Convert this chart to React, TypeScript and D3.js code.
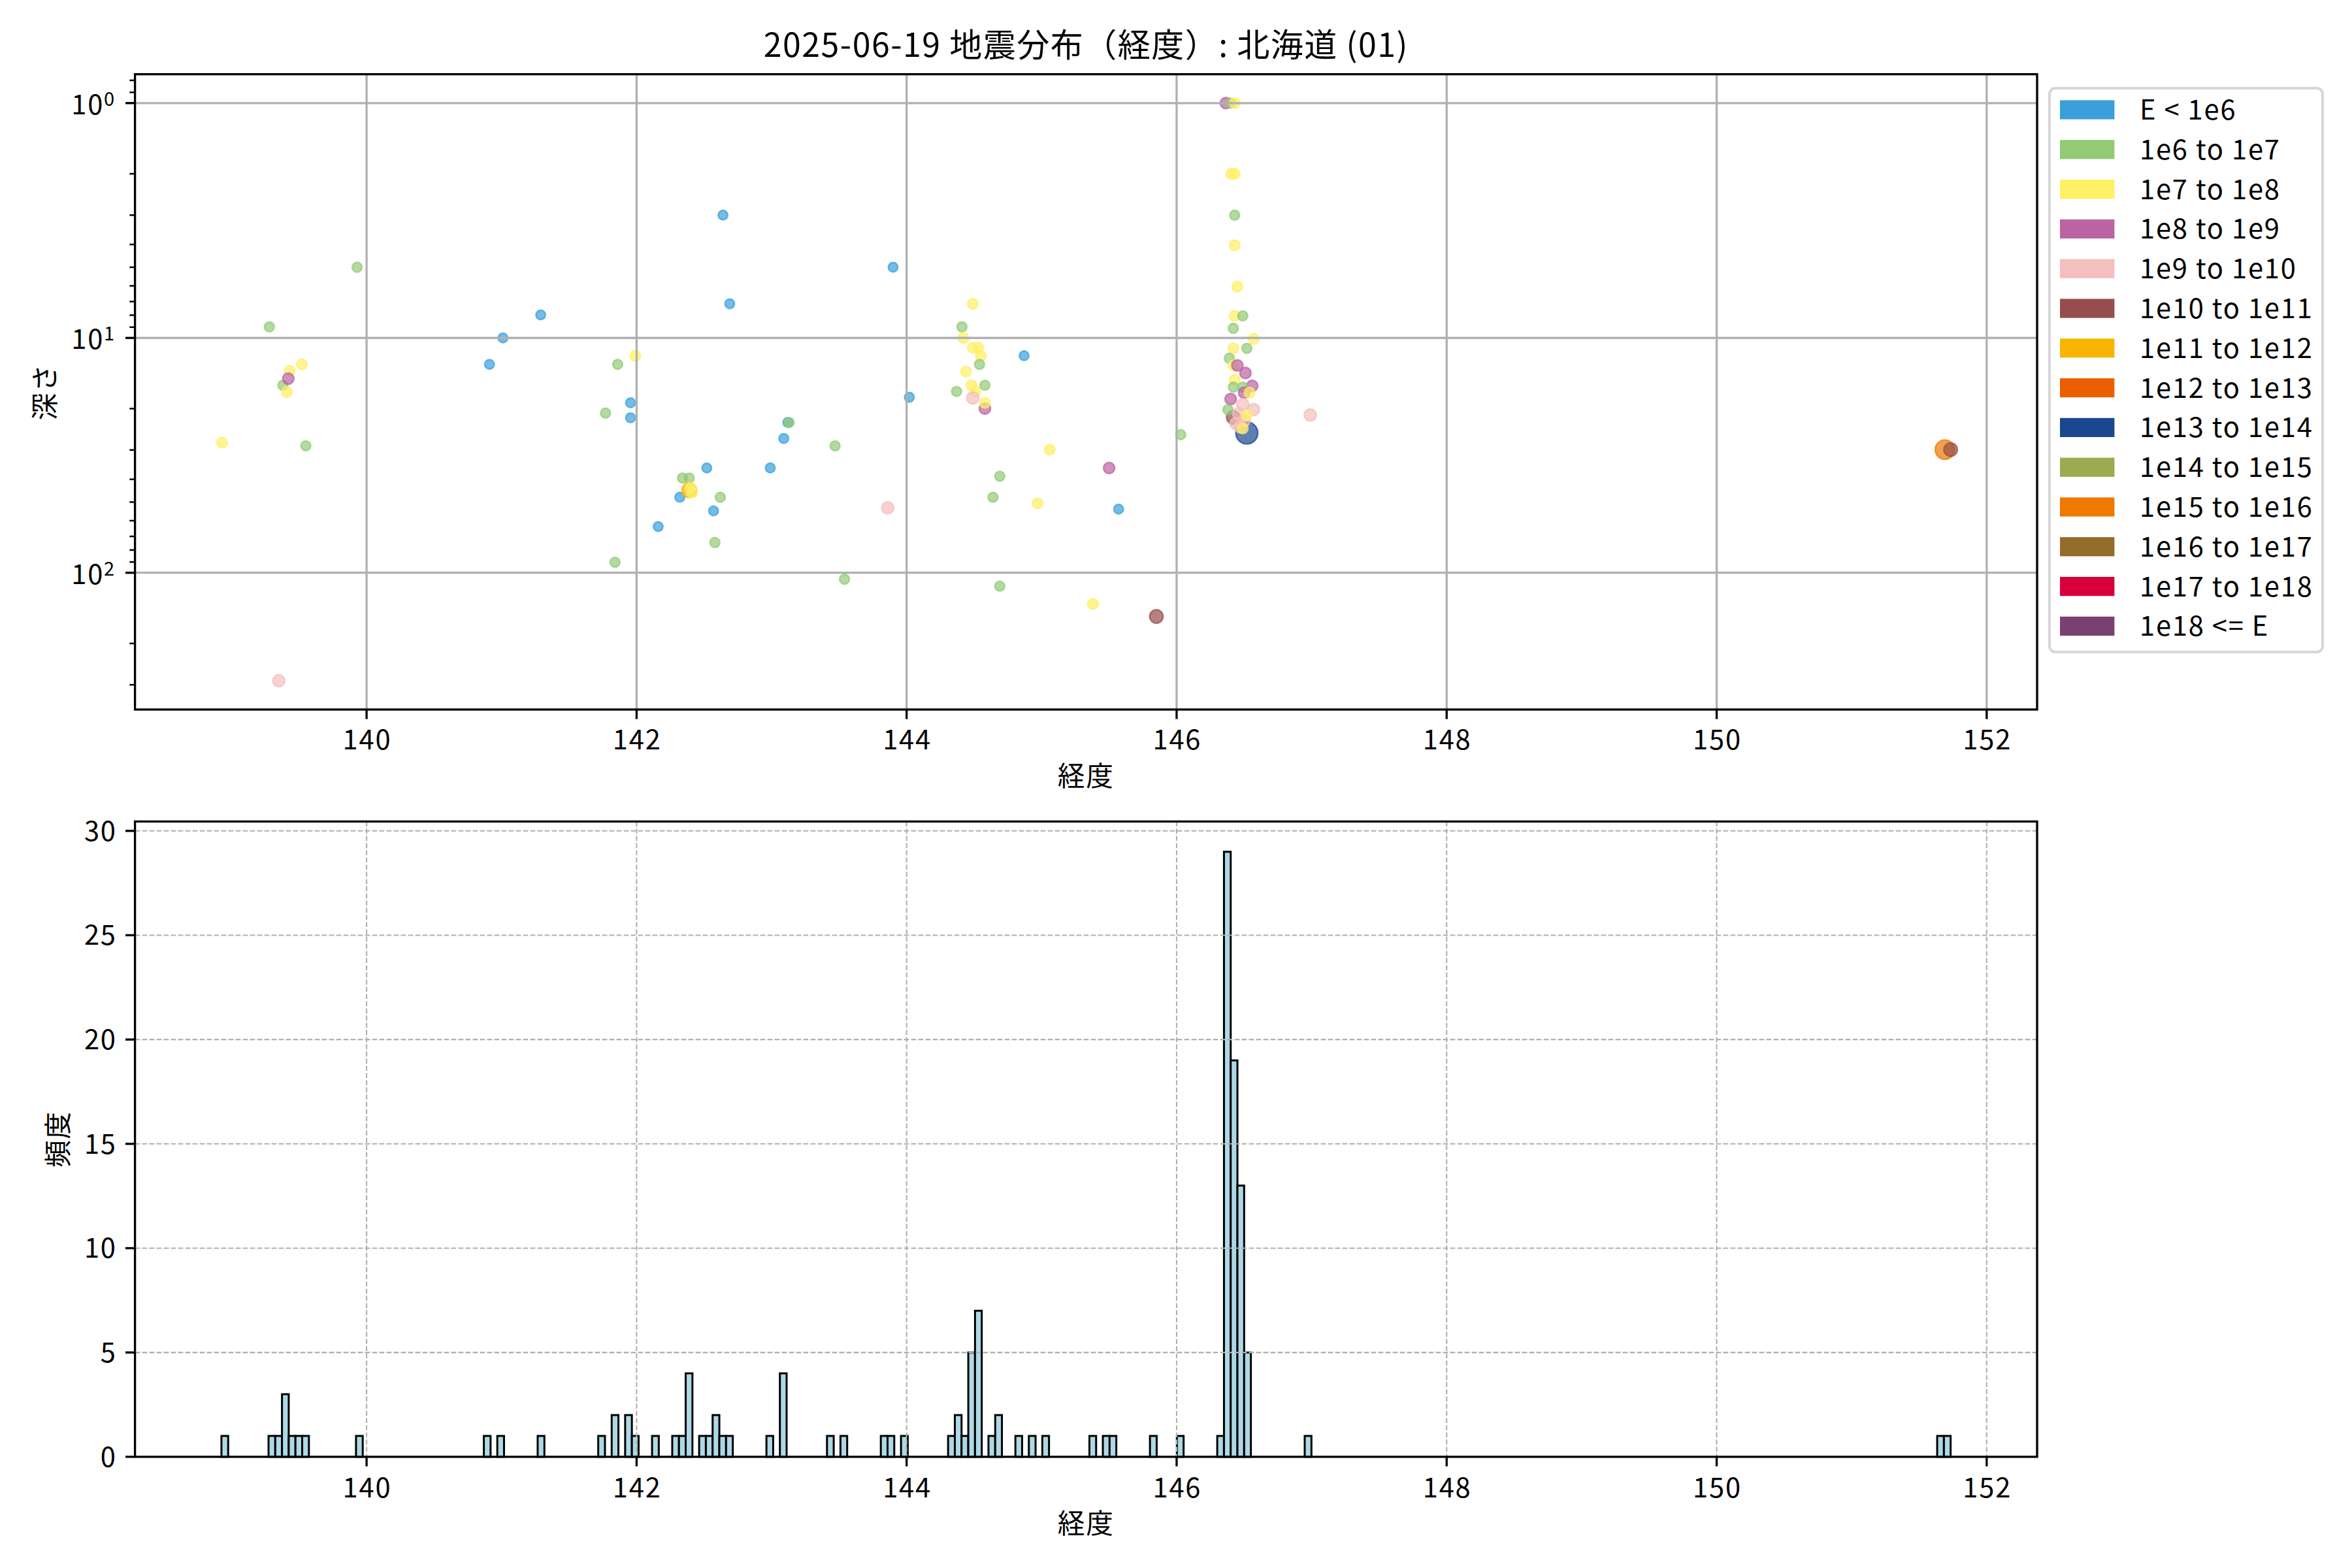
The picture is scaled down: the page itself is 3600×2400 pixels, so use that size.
import * as d3 from "d3";

// energy classes (legend)
const classLabels = [
  "E < 1e6", "1e6 to 1e7", "1e7 to 1e8", "1e8 to 1e9", "1e9 to 1e10", "1e10 to 1e11", "1e11 to 1e12",
  "1e12 to 1e13", "1e13 to 1e14", "1e14 to 1e15", "1e15 to 1e16", "1e16 to 1e17", "1e17 to 1e18", "1e18 <= E",
];
const classColors = [
  "#3a9fdb", "#93ca76", "#fff064", "#bb63a3", "#f4bfbc", "#954e4c", "#f8b500",
  "#ea6000", "#1b478e", "#9bab4f", "#ee7800", "#946c2c", "#d7003a", "#7a4170",
];
const classRadius = [8.5, 8.7, 9.2, 9.8, 10.5, 11.5, 12.5, 13.5, 18, 15, 16, 17, 18, 19];

// scatter: longitude, depth (km), energy class
const lon = [
  138.93, 139.28, 139.35, 139.38, 139.41, 139.43, 139.42, 139.52, 139.55, 139.93,
  140.91, 141.01, 141.29, 141.77, 141.84, 141.86, 141.955, 141.955, 141.99, 142.16,
  142.32, 142.34, 142.39, 142.39, 142.40, 142.41, 142.52, 142.57, 142.58, 142.62,
  142.64, 142.69, 142.99, 143.09, 143.12, 143.13, 143.47, 143.54, 143.86, 143.90,
  144.02, 144.37, 144.41, 144.42, 144.44, 144.49, 144.49, 144.53, 144.55, 144.54,
  144.48, 144.51, 144.58, 144.49, 144.58, 144.58, 144.64, 144.69, 144.69, 144.87,
  144.97, 145.06, 145.38, 145.50, 145.57, 145.85, 146.03,
  146.52, 146.365, 146.40, 146.43, 146.405, 146.43, 146.43, 146.43, 146.45, 146.43,
  146.49, 146.42, 146.57, 146.42, 146.52, 146.39, 146.42, 146.45, 146.51, 146.43,
  146.56, 146.42, 146.49, 146.50, 146.54, 146.40, 146.42, 146.38, 146.49, 146.57,
  146.46, 146.44, 146.47, 146.50, 146.52, 146.49, 146.99, 151.69, 151.733,
];
const depth = [
  27.9, 8.97, 288, 15.9, 17.0, 13.8, 14.9, 12.96, 28.8, 5.0,
  12.96, 10.0, 7.98, 20.9, 90.2, 12.96, 18.9, 21.9, 11.9, 63.6,
  47.7, 39.5, 39.5, 44.5, 43.5, 45.5, 35.8, 54.5, 74.3, 47.7,
  3.0, 7.16, 35.8, 26.8, 22.9, 22.9, 28.8, 106.5, 52.9, 5.0,
  17.9, 16.9, 8.97, 10.0, 13.9, 7.16, 11.0, 11.0, 11.9, 12.96,
  15.9, 16.9, 15.9, 18.0, 20.0, 18.9, 47.7, 38.8, 114, 11.9,
  50.6, 29.9, 135.6, 35.8, 53.6, 153.5, 25.8,
  25.4, 1.0, 1.0, 1.0, 2.0, 2.0, 3.0, 4.03, 6.04, 8.05,
  8.05, 9.1, 10.1, 11.07, 11.07, 12.2, 13.1, 13.1, 14.1, 15.1,
  16.0, 16.2, 16.2, 17.1, 17.1, 18.2, 21.8, 20.2, 19.2, 20.2,
  21.0, 23.2, 23.9, 22.5, 21.3, 24.3, 21.3, 29.9, 29.9,
];
const cls = [
  2, 1, 4, 1, 2, 2, 3, 2, 1, 1,
  0, 0, 0, 1, 1, 1, 0, 0, 2, 0,
  0, 1, 1, 6, 2, 2, 0, 0, 1, 1,
  0, 0, 0, 0, 0, 1, 1, 1, 4, 0,
  0, 1, 1, 2, 2, 2, 2, 2, 2, 1,
  2, 2, 1, 4, 3, 2, 1, 1, 1, 0,
  2, 2, 2, 3, 0, 5, 1,
  8, 3, 1, 2, 2, 2, 1, 2, 2, 2,
  1, 1, 2, 2, 1, 1, 2, 3, 3, 2,
  3, 1, 1, 3, 2, 3, 5, 1, 4, 4,
  4, 4, 4, 4, 2, 2, 4, 10, 5,
];

// histogram of longitude (257 bins from min to max)
const lonMin = 138.925;
const lonMax = 151.733;
const binCount = 257;
const histBin = [
  0, 7, 8, 9, 10, 11, 12, 20, 39, 41, 47, 56, 58, 60, 61, 64, 67, 68, 69, 71, 72, 73, 74, 75, 81, 83, 90,
  92, 98, 99, 101, 108, 109, 110, 111, 112, 114, 115, 118, 120, 122, 129, 131, 132, 138, 142, 148, 149, 150,
  151, 152, 161, 255, 256,
];
const histCount = [
  1, 1, 1, 3, 1, 1, 1, 1, 1, 1, 1, 1, 2, 2, 1, 1, 1, 1, 4, 1, 1, 2, 1, 1, 1, 4, 1,
  1, 1, 1, 1, 1, 2, 1, 5, 7, 1, 2, 1, 1, 1, 1, 1, 1, 1, 1, 1, 29, 19,
  13, 5, 1, 1, 1,
];

const title = "2025-06-19 地震分布（経度）: 北海道 (01)";
const FONT = "'Noto Sans CJK JP', 'Noto Sans', sans-serif";

export default function App() {
  const W = 3600, H = 2400;
  const axL = 206.6, axR = 3118;
  const top1 = 113.6, bot1 = 1086;
  const top2 = 1257.4, bot2 = 2229.8;
  const fs = 41.7;
  const ls = 1.8; // the reference font runs a little wider
  const tickLen = 14.6, minorLen = 8.3;

  const span = lonMax - lonMin;
  const x = d3.scaleLinear().domain([lonMin - 0.05 * span, lonMax + 0.05 * span]).range([axL, axR]);
  const xTicks = x.ticks(8).filter((t) => t % 2 === 0);

  const [dMin, dMax] = d3.extent(depth) as [number, number];
  const lspan = Math.log10(dMax) - Math.log10(dMin);
  const y1 = d3
    .scaleLog()
    .domain([10 ** (Math.log10(dMin) - 0.05 * lspan), 10 ** (Math.log10(dMax) + 0.05 * lspan)])
    .range([top1, bot1]);
  const y1Major = [1, 10, 100];
  const y1Minor = y1.ticks().filter((t) => !y1Major.includes(t));

  const y2 = d3.scaleLinear().domain([0, d3.max(histCount)! * 1.05]).range([bot2, top2]);
  const y2Ticks = d3.range(0, 31, 5);
  const binW = (lonMax - lonMin) / binCount;

  const axisCol = "#000";
  const spineW = 3.33;

  return (
    <svg width={W} height={H} style={{ position: "absolute", left: 0, top: 0, background: "#fff" }} fontFamily={FONT}>
      <rect width={W} height={H} fill="#fff" />
      <text x={(axL + axR) / 2} y={87} textAnchor="middle" fontSize={50} letterSpacing={1.5}>{title}</text>

      {/* ---------- scatter: depth vs longitude ---------- */}
      <g>
        {lon.map((d, i) => {
          const c = classColors[cls[i]];
          const r = classRadius[cls[i]];
          return (
            <circle key={i} cx={x(d)} cy={y1(depth[i])} r={r - 1.2} fill={c} fillOpacity={0.7}
              stroke={c} strokeOpacity={0.7} strokeWidth={2.4} />
          );
        })}
      </g>
      <g stroke="#b0b0b0" strokeWidth={3.3}>
        {xTicks.map((t) => <line key={t} x1={x(t)} x2={x(t)} y1={top1} y2={bot1} />)}
        {y1Major.map((t) => <line key={t} x1={axL} x2={axR} y1={y1(t)} y2={y1(t)} />)}
      </g>
      <rect x={axL} y={top1} width={axR - axL} height={bot1 - top1} fill="none" stroke={axisCol} strokeWidth={spineW} />
      <g stroke={axisCol}>
        {xTicks.map((t) => <line key={t} x1={x(t)} x2={x(t)} y1={bot1} y2={bot1 + tickLen} strokeWidth={3.33} />)}
        {y1Major.map((t) => <line key={t} x1={axL - tickLen} x2={axL} y1={y1(t)} y2={y1(t)} strokeWidth={3.33} />)}
        {y1Minor.map((t) => <line key={t} x1={axL - minorLen} x2={axL} y1={y1(t)} y2={y1(t)} strokeWidth={2.5} />)}
      </g>
      <g fontSize={fs} letterSpacing={ls}>
        {xTicks.map((t) => <text key={t} x={x(t) + ls / 2} y={1147} textAnchor="middle">{t}</text>)}
        {y1Major.map((t) => (
          <text key={t} x={177} y={y1(t) + 17} textAnchor="end">
            10<tspan dy={-13} fontSize={29}>{Math.round(Math.log10(t))}</tspan>
          </text>
        ))}
        <text x={(axL + axR) / 2} y={1203} textAnchor="middle">経度</text>
        <text transform={`translate(66,${(top1 + bot1) / 2}) rotate(-90)`} textAnchor="middle" dominantBaseline="central">深さ</text>
      </g>

      {/* legend */}
      <g>
        <rect x={3137} y={135} width={418} height={863} rx={9} fill="#fff" fillOpacity={0.8} stroke="#d6d6d6" strokeWidth={4} />
        {classLabels.map((lab, i) => {
          const cy = 168 + i * 60.8;
          return (
            <g key={lab}>
              <rect x={3153} y={cy - 14.6} width={83.4} height={29.2} fill={classColors[i]} />
              <text x={3275} y={cy + 15} fontSize={fs} letterSpacing={ls}>{lab}</text>
            </g>
          );
        })}
      </g>

      {/* ---------- histogram of longitude ---------- */}
      <g fill="#add8e6" stroke="#000" strokeWidth={3}>
        {histBin.map((b, i) => {
          const x0 = x(lonMin + b * binW);
          const x1 = x(lonMin + (b + 1) * binW);
          return <rect key={b} x={x0} y={y2(histCount[i])} width={x1 - x0} height={y2(0) - y2(histCount[i])} />;
        })}
      </g>
      <g stroke="#b0b0b0" strokeWidth={2.1} strokeDasharray="7.7 3.3">
        {xTicks.map((t) => <line key={t} x1={x(t)} x2={x(t)} y1={top2} y2={bot2} />)}
        {y2Ticks.map((t) => <line key={t} x1={axL} x2={axR} y1={y2(t)} y2={y2(t)} />)}
      </g>
      <rect x={axL} y={top2} width={axR - axL} height={bot2 - top2} fill="none" stroke={axisCol} strokeWidth={spineW} />
      <g stroke={axisCol} strokeWidth={3.33}>
        {xTicks.map((t) => <line key={t} x1={x(t)} x2={x(t)} y1={bot2} y2={bot2 + tickLen} />)}
        {y2Ticks.map((t) => <line key={t} x1={axL - tickLen} x2={axL} y1={y2(t)} y2={y2(t)} />)}
      </g>
      <g fontSize={fs} letterSpacing={ls}>
        {xTicks.map((t) => <text key={t} x={x(t) + ls / 2} y={2292} textAnchor="middle">{t}</text>)}
        {y2Ticks.map((t) => <text key={t} x={177 + ls} y={y2(t) + 15} textAnchor="end">{t}</text>)}
        <text x={(axL + axR) / 2} y={2347} textAnchor="middle">経度</text>
        <text transform={`translate(86,${(top2 + bot2) / 2}) rotate(-90)`} textAnchor="middle" dominantBaseline="central">頻度</text>
      </g>
    </svg>
  );
}
